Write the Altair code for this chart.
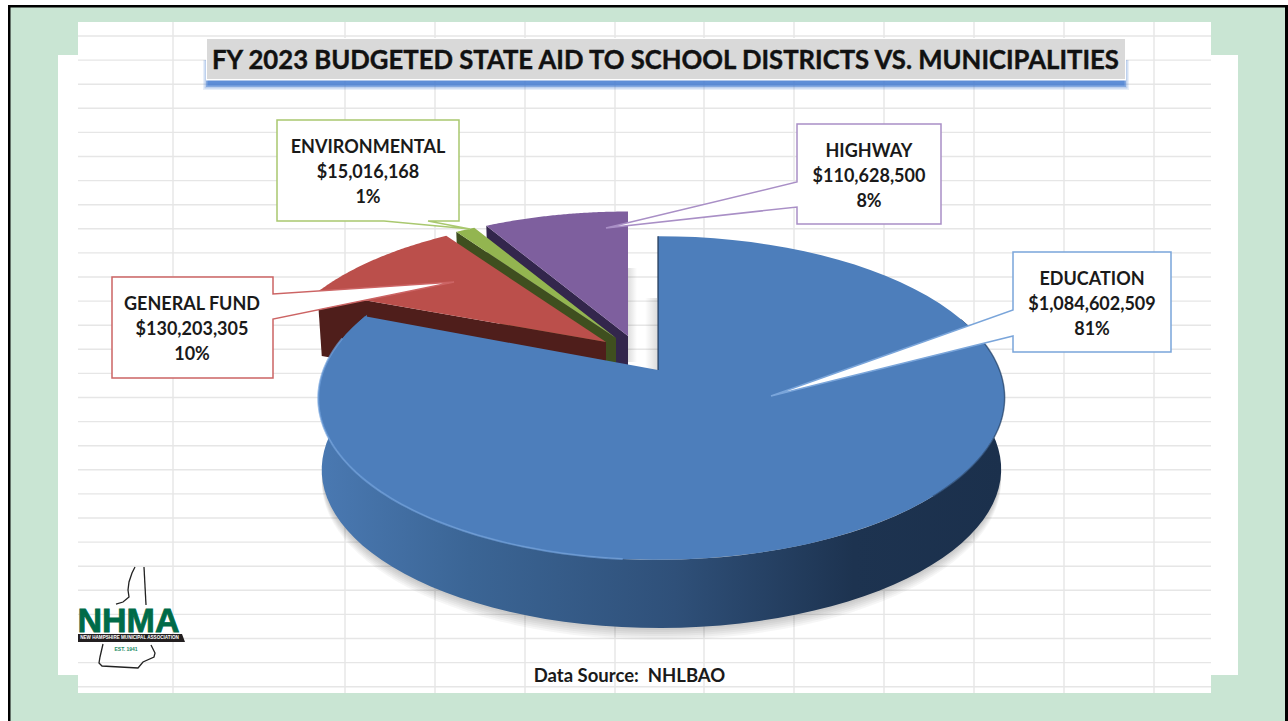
import math
import altair as alt
import numpy as np
import pandas as pd

# Budget figures
categories = ["EDUCATION", "GENERAL FUND", "ENVIRONMENTAL", "HIGHWAY"]
amounts = [1084602509, 130203305, 15016168, 110628500]
top_colors = ["#4d7ebb", "#bb4f4b", "#93b550", "#7e5f9e"]
side_colors = ["#1d3350", "#4f1e1b", "#3f4f1f", "#33264c"]
callout_colors = ["#7aa5da", "#cc6464", "#a9c86f", "#a98fc6"]

# Page furniture
title = "FY 2023 BUDGETED STATE AID TO SCHOOL DISTRICTS VS. MUNICIPALITIES"
source = "Data Source:\u00a0\u00a0NHLBAO"
grid_columns = [173, 345, 435, 525, 615, 704, 794, 884, 974, 1064, 1154]
grid_rows = [36 + 24.1 * i for i in range(28)]

# Callout outlines, including their pointers
callouts = {
    "EDUCATION": [[1013, 252], [1171, 252], [1171, 352], [1013, 352], [1013, 336], [771, 396], [1013, 310]],
    "GENERAL FUND": [[112, 277], [273, 277], [273, 294], [454, 282], [273, 319], [273, 378], [112, 378]],
    "ENVIRONMENTAL": [[277, 120], [459, 120], [459, 221], [428, 221], [470, 229], [384, 221], [277, 221]],
    "HIGHWAY": [[797, 124], [941, 124], [941, 224], [797, 224], [797, 207], [606, 228], [797, 182]],
}
label_anchor = {
    "EDUCATION": (1092, 279.5),
    "GENERAL FUND": (192, 305),
    "ENVIRONMENTAL": (368, 148),
    "HIGHWAY": (869, 151.5),
}

# Placement of each exploded slice in the tilted disc
slice_apex = {
    "EDUCATION": (658, 370),
    "GENERAL FUND": (606, 342),
    "ENVIRONMENTAL": (616, 338),
    "HIGHWAY": (628, 336),
}
RADIUS_X, RADIUS_Y, TILT, SKEW = 338, 157, 0.173, 3.5

# State outline and lettering of the association mark
state_north = [[135, 567], [132, 573], [129, 582], [128, 590], [129, 597], [123, 602], [116, 604]]
state_east = [[144, 567], [146, 605]]
state_south = [[103, 644], [100, 657], [99, 663], [102, 666], [138, 668], [143, 662], [154, 657], [155, 653], [151, 645]]
banner = [[78, 634], [182, 634], [185, 642], [78, 642]]


def disc_point(apex, angle, sx=1.0, sy=1.0, drop=0.0):
    """Map a clockwise angle from 12 o'clock on to the tilted disc."""
    u, v = math.sin(math.radians(angle)), math.cos(math.radians(angle))
    w = 1 + TILT * v
    return [apex[0] + sx * RADIUS_X * u / w + SKEW * abs(u), apex[1] + drop - sy * RADIUS_Y * v / w]


def arc(apex, a, b, sx=1.0, sy=1.0, drop=0.0, n=80):
    return [disc_point(apex, t, sx, sy, drop) for t in np.linspace(a, b, n)]


def shape(points, closed=True, **style):
    ring = points + [points[0]] if closed else points
    geometry = (
        {"type": "Polygon", "coordinates": [ring]}
        if closed
        else {"type": "LineString", "coordinates": ring}
    )
    feature = {"type": "Feature", "properties": {}, "geometry": geometry}
    return alt.Chart(alt.Data(values=[feature])).mark_geoshape(**style).project(
        type="identity", scale=1, translate=[0, 0]
    )


X = alt.Scale(domain=[0, 1288], nice=False, zero=False)
Y = alt.Scale(domain=[721, 0], nice=False, zero=False)


def box(x0, x1, y0, y1, **style):
    data = pd.DataFrame({"x": [x0], "x2": [x1], "y": [y0], "y2": [y1]})
    return alt.Chart(data).mark_rect(**style).encode(
        x=alt.X("x:Q", scale=X, axis=None),
        x2="x2:Q",
        y=alt.Y("y:Q", scale=Y, axis=None),
        y2="y2:Q",
    )


def words(rows, **style):
    return alt.Chart(pd.DataFrame(rows)).mark_text(**style).encode(
        x=alt.X("x:Q", scale=X, axis=None),
        y=alt.Y("y:Q", scale=Y, axis=None),
        text="text:N",
    )


layers = []

# Backdrop: frame, pale green field and the stepped white sheet
layers.append(box(8, 1288, 5, 721, color="#000000"))
layers.append(box(10.5, 1285, 7.5, 721, color="#c9e5d3"))
layers.append(box(78, 1211, 22, 693, color="#ffffff"))
layers.append(box(58, 1238, 55, 675, color="#ffffff"))

# Spreadsheet gridlines
layers.append(
    alt.Chart(pd.DataFrame({"x": grid_columns, "y": 22, "y2": 693})).mark_rule(color="#e6e6e6", strokeWidth=1.4).encode(
        x=alt.X("x:Q", scale=X, axis=None), y=alt.Y("y:Q", scale=Y, axis=None), y2="y2:Q"
    )
)
layers.append(
    alt.Chart(pd.DataFrame({"y": grid_rows, "x": 78, "x2": 1211})).mark_rule(color="#e6e6e6", strokeWidth=1.4).encode(
        y=alt.Y("y:Q", scale=Y, axis=None), x=alt.X("x:Q", scale=X, axis=None), x2="x2:Q"
    )
)

# Slice angles come straight from the amounts
total = sum(amounts)
edges = np.concatenate([[0], np.cumsum(amounts) / total * 360])
angle = {c: (edges[i], edges[i + 1]) for i, c in enumerate(categories)}
top = dict(zip(categories, top_colors))
side = dict(zip(categories, side_colors))

# Soft shadow beneath the disc
edu_apex = slice_apex["EDUCATION"]
WALL_SX, WALL_SY, WALL_DROP = 0.99, 0.98, 72
for off in (12, 10, 8, 6, 4, 2):
    layers.append(
        shape(
            arc(edu_apex, 70, 290, WALL_SX, WALL_SY, WALL_DROP + off),
            fill="#000000",
            fillOpacity=0.035,
            strokeWidth=0,
        )
    )

# Cast shadow inside the gap between the slices
layers.append(
    box(
        628, 637, 268, 362,
        color=alt.Gradient(
            gradient="linear", x1=0, x2=1, y1=0, y2=0,
            stops=[alt.GradientStop(color="#00000022", offset=0), alt.GradientStop(color="#00000000", offset=1)],
        ),
    )
)
layers.append(
    box(
        645, 657, 298, 372,
        color=alt.Gradient(
            gradient="linear", x1=0, x2=1, y1=0, y2=0,
            stops=[alt.GradientStop(color="#00000000", offset=0), alt.GradientStop(color="#00000022", offset=1)],
        ),
    )
)

# Small exploded slices, painted from the back of the pie forward
SMALL_SX, SMALL_SY, SMALL_DEPTH = 0.985, 0.93, 64
for name in ["HIGHWAY", "ENVIRONMENTAL", "GENERAL FUND"]:
    apex = slice_apex[name]
    a, b = angle[name]
    corner_top = disc_point(apex, a, SMALL_SX, SMALL_SY)
    corner_low = disc_point(apex, a, SMALL_SX * 0.985, SMALL_SY, SMALL_DEPTH)
    layers.append(
        shape(
            [list(apex), corner_top, corner_low, [apex[0], apex[1] + SMALL_DEPTH]],
            fill=side[name],
            strokeWidth=0,
        )
    )
    layers.append(shape([list(apex)] + arc(apex, a, b, SMALL_SX, SMALL_SY), fill=top[name], strokeWidth=0))

# Education slice: shaded outer wall, then its top face and bevel
wall_points = arc(edu_apex, 70, 292) + arc(edu_apex, 292, 70, WALL_SX, WALL_SY, WALL_DROP)
layers.append(
    shape(
        wall_points,
        fill=alt.Gradient(
            gradient="linear", x1=0, x2=1, y1=0, y2=0,
            stops=[
                alt.GradientStop(color="#4a79b2", offset=0),
                alt.GradientStop(color="#3b6595", offset=0.22),
                alt.GradientStop(color="#2f5079", offset=0.52),
                alt.GradientStop(color="#1d3350", offset=0.78),
                alt.GradientStop(color="#1b304c", offset=1),
            ],
        ),
        strokeWidth=0,
    )
)
e0, e1 = angle["EDUCATION"]
layers.append(shape([list(edu_apex)] + arc(edu_apex, e0, e1), fill=top["EDUCATION"], strokeWidth=0))
layers.append(
    shape(arc(edu_apex, 185, 282), closed=False, fill="transparent", stroke="#6f9fdc", strokeWidth=2, strokeOpacity=0.7)
)
layers.append(
    shape(arc(edu_apex, 75, 135), closed=False, fill="transparent", stroke="#2b4a72", strokeWidth=1.5, strokeOpacity=0.7)
)
layers.append(
    shape([list(edu_apex), disc_point(edu_apex, e0)], closed=False, fill="transparent", stroke="#1f3552", strokeWidth=1.2)
)

# Callouts with their three-line labels
rows = []
for name, amount, colour in zip(categories, amounts, callout_colors):
    layers.append(shape(callouts[name], fill="#ffffff", stroke=colour, strokeWidth=1.5))
    x, y = label_anchor[name]
    lines = [name, f"${amount:,}", f"{amount / total:.0%}"]
    rows += [{"x": x, "y": y + 25 * i, "text": line} for i, line in enumerate(lines)]
layers.append(words(rows, font="Lato", fontWeight="bold", fontSize=18, color="#1a1a1a", align="center", baseline="middle"))

# Title plate with its blue under-glow
for inset, alpha in ((0, 0.12), (1.5, 0.25), (3, 0.45), (4.5, 0.55)):
    layers.append(box(203 + inset, 1129 - inset, 60, 90 - inset, color="#3f78cf", opacity=alpha))
layers.append(box(206, 1126, 38, 80.5, color="#ffffff"))
layers.append(box(207, 1125, 39, 79, color="#d9d9d9"))
layers.append(
    words(
        [{"x": 665.5, "y": 61, "text": title}],
        font="Lato", fontWeight="bold", fontSize=25.7, color="#111111", stroke="#111111", strokeWidth=0.4,
        align="center", baseline="middle",
    )
)

# Source note
layers.append(
    words(
        [{"x": 629.5, "y": 676, "text": source}],
        font="Lato", fontWeight="bold", fontSize=18.5, color="#1a1a1a", align="center", baseline="middle",
    )
)

# Association mark
for outline in (state_north, state_east, state_south):
    layers.append(shape(outline, closed=False, fill="transparent", stroke="#222222", strokeWidth=1.3))
layers.append(shape(banner, fill="#231f20", strokeWidth=0))
layers.append(
    words(
        [{"x": 77.5, "y": 632, "text": "NHMA"}],
        font="Liberation Sans", fontWeight="bold", fontSize=34, color="#006b48", stroke="#006b48", strokeWidth=0.8,
        align="left", baseline="alphabetic",
    )
)
layers.append(
    words(
        [{"x": 129.5, "y": 638, "text": "NEW HAMPSHIRE MUNICIPAL ASSOCIATION"}],
        font="Liberation Sans", fontWeight="bold", fontSize=4.6, color="#ffffff", align="center", baseline="middle",
    )
)
layers.append(
    words(
        [{"x": 126, "y": 648.5, "text": "EST. 1941"}],
        font="Liberation Sans", fontWeight="bold", fontSize=5, color="#1c8a63", align="center", baseline="middle",
    )
)

chart = (
    alt.layer(*layers)
    .properties(width=1288, height=721, padding=0, background="#ffffff", autosize=alt.AutoSizeParams(type="none"))
    .configure_view(strokeWidth=0)
)

chart.save("out.html", embed_options={"renderer": "svg", "actions": False})
